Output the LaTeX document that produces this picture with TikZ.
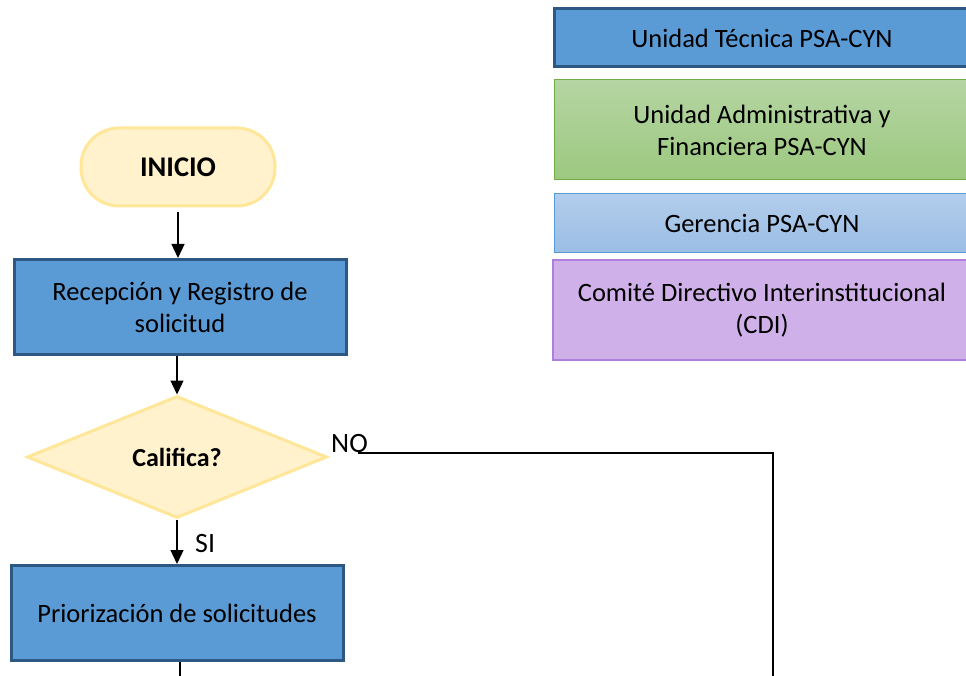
\documentclass[tikz,border=0pt]{standalone}
\usepackage{fontspec}
\setmainfont{Carlito}
\usetikzlibrary{shapes.geometric,arrows.meta,positioning}
\definecolor{bluefill}{HTML}{5B9BD5}
\definecolor{blueline}{HTML}{2E5884}
\definecolor{yelfill}{HTML}{FFF2CC}
\definecolor{yelline}{HTML}{FFE699}
\definecolor{greentop}{HTML}{B5D5A3}
\definecolor{greenbot}{HTML}{9CC87F}
\definecolor{greenline}{HTML}{70AD47}
\definecolor{lbtop}{HTML}{B3CDEC}
\definecolor{lbbot}{HTML}{9ABEE4}
\definecolor{lbline}{HTML}{5B9BD5}
\definecolor{purfill}{HTML}{D0B0E8}
\definecolor{purline}{HTML}{B07FDB}
\tikzset{
  procbox/.style={rectangle, fill=bluefill, draw=blueline, line width=3pt, align=center, inner sep=0pt, font=\fontsize{26.5}{32}\selectfont},
  termbox/.style={rectangle, rounded corners=38pt, fill=yelfill, draw=yelline, line width=3pt, align=center, inner sep=0pt, font=\fontsize{28.5}{32}\selectfont\bfseries},
  decbox/.style={diamond, fill=yelfill, draw=yelline, line width=3pt, inner sep=0pt, font=\fontsize{26}{30}\selectfont\bfseries},
  legbox/.style={rectangle, align=center, inner sep=0pt, font=\fontsize{26.5}{32}\selectfont},
  flow/.style={line width=1.3pt, -{Triangle[width=13pt,length=14pt]}},
  plain/.style={line width=2.5pt},
  lbl/.style={font=\fontsize{28}{30}\selectfont, inner sep=0pt}
}
\begin{document}
\begin{tikzpicture}[x=1pt,y=-1pt]
\useasboundingbox (0,0) rectangle (966,676);
% legend
\node[legbox, fill=bluefill, draw=blueline, line width=3pt, minimum width=416pt, minimum height=58pt] (ut) at (762,38) {Unidad Técnica PSA-CYN};
\node[legbox, top color=greentop, bottom color=greenbot, draw=greenline, line width=1pt, minimum width=416pt, minimum height=100pt] (ua) at (762,130) {Unidad Administrativa y\\Financiera PSA-CYN};
\node[legbox, top color=lbtop, bottom color=lbbot, draw=lbline, line width=1pt, minimum width=416pt, minimum height=59pt] (ge) at (762,223) {Gerencia PSA-CYN};
\node[legbox, fill=purfill, draw=purline, line width=2pt, minimum width=418pt, minimum height=100pt] (cdi) at (762,310) {Comité Directivo Interinstitucional\\(CDI)};
% flow
\node[termbox, minimum width=194pt, minimum height=78pt] (ini) at (178,167) {INICIO};
\node[procbox, minimum width=332pt, minimum height=95pt] (rec) at (180,307) {Recepción y Registro de\\solicitud};
\node[decbox, minimum width=300pt, minimum height=122pt, aspect=2.46] (cal) at (177,457) {Califica?};
\node[procbox, minimum width=332pt, minimum height=95pt] (pri) at (177,613) {Priorización de solicitudes};
\coordinate (inibot) at (178,212);
\draw[flow] (inibot) -- (inibot |- rec.north);
\draw[flow] (cal.north |- rec.south) -- (cal.north);
\draw[flow] (cal.south) -- (cal.south |- pri.north);
\node[lbl, anchor=west] (si) at (195,544) {SI};
\node[lbl, anchor=west] (no) at (331,444) {NO};
\coordinate (nostart) at (358,453);
\coordinate (noend) at (773,676);
\draw[plain] (nostart) -| (noend);
\coordinate (priend) at (180,676);
\draw[plain] (priend |- pri.south) -- (priend);
\end{tikzpicture}
\end{document}
